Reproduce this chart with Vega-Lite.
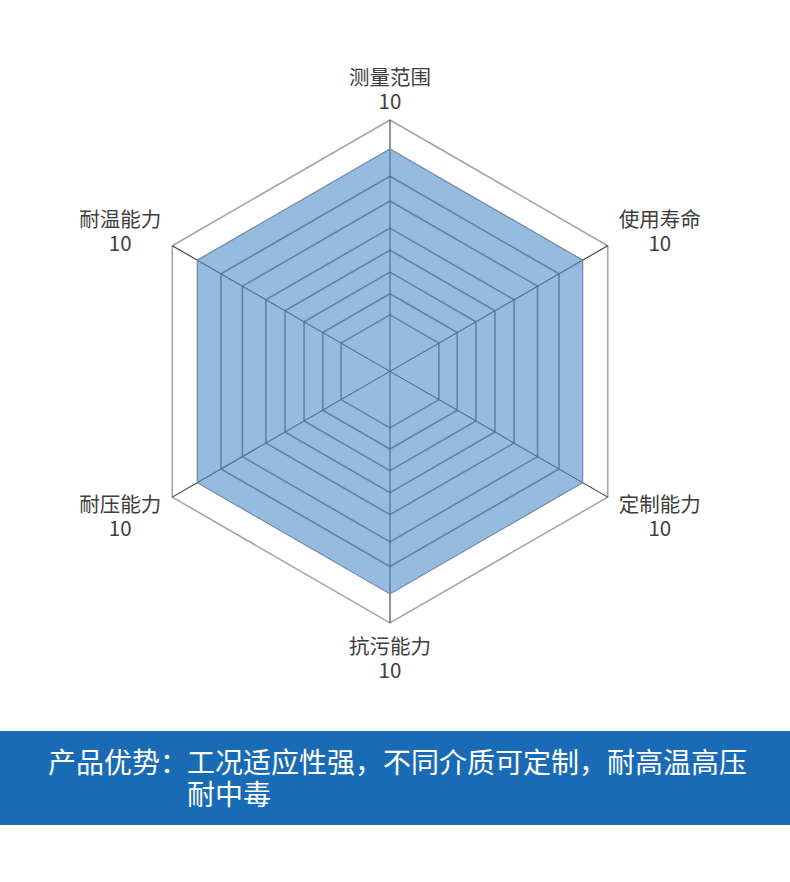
{
  "$schema": "https://vega.github.io/schema/vega-lite/v6.json",
  "padding": 0,
  "background": "white",
  "spacing": 0,
  "config": {"view": {"stroke": null}, "font": "Noto Sans CJK SC", "concat": {"spacing": 0}},
  "datasets": {
    "scores": [
      {"axis": "测量范围", "idx": 0, "score": 10},
      {"axis": "使用寿命", "idx": 1, "score": 10},
      {"axis": "定制能力", "idx": 2, "score": 10},
      {"axis": "抗污能力", "idx": 3, "score": 10},
      {"axis": "耐压能力", "idx": 4, "score": 10},
      {"axis": "耐温能力", "idx": 5, "score": 10}
    ],
    "grid": [
      {"level": 2.54, "kind": "inner", "idx": [0, 1, 2, 3, 4, 5]},
      {"level": 3.49, "kind": "inner", "idx": [0, 1, 2, 3, 4, 5]},
      {"level": 4.46, "kind": "inner", "idx": [0, 1, 2, 3, 4, 5]},
      {"level": 5.45, "kind": "inner", "idx": [0, 1, 2, 3, 4, 5]},
      {"level": 6.44, "kind": "inner", "idx": [0, 1, 2, 3, 4, 5]},
      {"level": 7.66, "kind": "inner", "idx": [0, 1, 2, 3, 4, 5]},
      {"level": 8.77, "kind": "inner", "idx": [0, 1, 2, 3, 4, 5]},
      {"level": 11.3, "kind": "outer", "idx": [0, 1, 2, 3, 4, 5]}
    ],
    "band": [
      {"part": "标题", "text": "产品优势："},
      {"part": "内容", "text": "工况适应性强，不同介质可定制，耐高温高压\n耐中毒"}
    ]
  },
  "vconcat": [
    {
      "width": 790,
      "height": 731,
      "layer": [
        {
          "data": {"name": "grid"},
          "transform": [
            {"flatten": ["idx"]},
            {"filter": "datum.kind === 'outer'"},
            {"calculate": "datum.idx * PI / 3", "as": "a"},
            {"calculate": "datum.level * sin(datum.a)", "as": "px"},
            {"calculate": "datum.level * cos(datum.a)", "as": "py"}
          ],
          "mark": {"type": "line", "interpolate": "linear-closed", "stroke": "#a6a6a6", "strokeWidth": 1.6},
          "encoding": {
            "x": {"field": "px", "type": "quantitative", "scale": {"domain": [-17.528, 17.978], "nice": false, "zero": false}, "axis": null},
            "y": {"field": "py", "type": "quantitative", "scale": {"domain": [-16.162, 16.692], "nice": false, "zero": false}, "axis": null},
            "detail": {"field": "level", "type": "nominal"},
            "order": {"field": "idx", "type": "quantitative"}
          }
        },
        {
          "data": {"name": "grid"},
          "transform": [
            {"flatten": ["idx"]},
            {"filter": "datum.kind === 'inner'"},
            {"calculate": "datum.idx * PI / 3", "as": "a"},
            {"calculate": "datum.level * sin(datum.a)", "as": "px"},
            {"calculate": "datum.level * cos(datum.a)", "as": "py"}
          ],
          "mark": {"type": "line", "interpolate": "linear-closed", "stroke": "#747474", "strokeWidth": 1.6},
          "encoding": {
            "x": {"field": "px", "type": "quantitative", "scale": {"domain": [-17.528, 17.978], "nice": false, "zero": false}, "axis": null},
            "y": {"field": "py", "type": "quantitative", "scale": {"domain": [-16.162, 16.692], "nice": false, "zero": false}, "axis": null},
            "detail": {"field": "level", "type": "nominal"},
            "order": {"field": "idx", "type": "quantitative"}
          }
        },
        {
          "data": {"name": "scores"},
          "transform": [
            {"calculate": "datum.idx * PI / 3", "as": "a"},
            {"calculate": "0", "as": "cx"},
            {"calculate": "0", "as": "cy"},
            {"calculate": "11.3 * sin(datum.a)", "as": "ex"},
            {"calculate": "11.3 * cos(datum.a)", "as": "ey"}
          ],
          "mark": {"type": "rule", "stroke": "#3a3a3a", "strokeWidth": 1.1},
          "encoding": {
            "x": {"field": "cx", "type": "quantitative", "scale": {"domain": [-17.528, 17.978], "nice": false, "zero": false}, "axis": null},
            "y": {"field": "cy", "type": "quantitative", "scale": {"domain": [-16.162, 16.692], "nice": false, "zero": false}, "axis": null},
            "x2": {"field": "ex"},
            "y2": {"field": "ey"}
          }
        },
        {
          "data": {"name": "scores"},
          "transform": [
            {"calculate": "datum.idx * PI / 3", "as": "a"},
            {"calculate": "datum.score * sin(datum.a)", "as": "px"},
            {"calculate": "datum.score * cos(datum.a)", "as": "py"}
          ],
          "mark": {"type": "line", "interpolate": "linear-closed", "fill": "#528cca", "fillOpacity": 0.6, "stroke": "#7088a6", "strokeWidth": 1.2},
          "encoding": {
            "x": {"field": "px", "type": "quantitative", "scale": {"domain": [-17.528, 17.978], "nice": false, "zero": false}, "axis": null},
            "y": {"field": "py", "type": "quantitative", "scale": {"domain": [-16.162, 16.692], "nice": false, "zero": false}, "axis": null},
            "order": {"field": "idx", "type": "quantitative"}
          }
        },
        {
          "data": {"name": "scores"},
          "transform": [
            {"calculate": "datum.idx * PI / 3", "as": "a"},
            {"calculate": "14 * sin(datum.a)", "as": "lx"},
            {"calculate": "12.8 * cos(datum.a)", "as": "ly"}
          ],
          "mark": {"type": "text", "fontSize": 20.5, "color": "#3d3d3d", "align": "center", "baseline": "middle", "dy": -8},
          "encoding": {
            "x": {"field": "lx", "type": "quantitative", "scale": {"domain": [-17.528, 17.978], "nice": false, "zero": false}, "axis": null},
            "y": {"field": "ly", "type": "quantitative", "scale": {"domain": [-16.162, 16.692], "nice": false, "zero": false}, "axis": null},
            "text": {"field": "axis"}
          }
        },
        {
          "data": {"name": "scores"},
          "transform": [
            {"calculate": "datum.idx * PI / 3", "as": "a"},
            {"calculate": "14 * sin(datum.a)", "as": "lx"},
            {"calculate": "12.8 * cos(datum.a)", "as": "ly"}
          ],
          "mark": {"type": "text", "fontSize": 20.5, "color": "#3d3d3d", "align": "center", "baseline": "middle", "dy": 16},
          "encoding": {
            "x": {"field": "lx", "type": "quantitative", "scale": {"domain": [-17.528, 17.978], "nice": false, "zero": false}, "axis": null},
            "y": {"field": "ly", "type": "quantitative", "scale": {"domain": [-16.162, 16.692], "nice": false, "zero": false}, "axis": null},
            "text": {"field": "score"}
          }
        }
      ]
    },
    {
      "width": 790,
      "height": 94,
      "view": {"fill": "#1a6bb5", "stroke": null},
      "data": {"name": "band"},
      "mark": {"type": "text", "align": "left", "baseline": "top", "dy": -27, "fontSize": 28, "color": "white", "lineBreak": "\n", "lineHeight": 32},
      "encoding": {
        "x": {"field": "part", "type": "nominal", "scale": {"type": "point", "domain": ["标题", "内容"], "range": [48, 187], "padding": 0}, "axis": null},
        "text": {"field": "text"}
      }
    }
  ]
}
